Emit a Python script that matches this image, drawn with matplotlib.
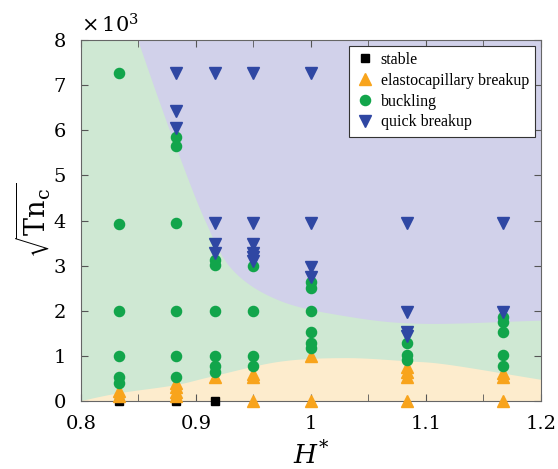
import numpy as np
import matplotlib
matplotlib.use("Agg")
import matplotlib.pyplot as plt

# ---------------- data (H*, sqrt(Tn_c)) ----------------
stable_H = [0.8333, 0.8824, 0.9167]
stable_v = [0, 0, 0]

elasto_H = [0.8333, 0.8333,
            0.8824, 0.8824, 0.8824, 0.8824,
            0.9167,
            0.95, 0.95, 0.95,
            1.0, 1.0,
            1.0833, 1.0833, 1.0833, 1.0833,
            1.1667, 1.1667, 1.1667]
elasto_v = [220, 120,
            400, 300, 200, 120,
            540,
            600, 540, 0,
            1000, 0,
            760, 650, 540, 0,
            620, 540, 0]

buck_H = [0.8333] * 6 + [0.8824] * 6 + [0.9167] * 6 + [0.95] * 4 + [1.0] * 6 + [1.0833] * 3 + [1.1667] * 5
buck_v = [7270, 3930, 2000, 1000, 540, 390,
          5860, 5640, 3950, 2000, 1000, 540,
          3120, 3010, 2000, 1000, 780, 650,
          3000, 2000, 1000, 780,
          2640, 2500, 2000, 1520, 1290, 1170,
          1280, 1020, 910,
          1870, 1760, 1520, 1020, 780]

quick_H = [0.8824] * 3 + [0.9167] * 4 + [0.95] * 6 + [1.0] * 4 + [1.0833] * 4 + [1.1667] * 2
quick_v = [7270, 6430, 6040,
           7270, 3950, 3490, 3270,
           7270, 3950, 3490, 3290, 3200, 3100,
           7270, 3950, 2980, 2740,
           3950, 1980, 1540, 1440,
           3950, 1980]

# region boundaries
quick_bnd_H = [0.845, 0.8496, 0.866, 0.8826, 0.908, 0.932, 0.973, 1.032, 1.097, 1.2]
quick_bnd_v = [8300, 8000, 6800, 5640, 4000, 2900, 2220, 1870, 1710, 1780]
elasto_bnd_H = [0.8, 0.833, 0.882, 0.914, 0.973, 1.03, 1.083, 1.12, 1.2]
elasto_bnd_v = [0, 170, 350, 540, 870, 950, 880, 800, 470]

x_ticks = [0.8, 0.9, 1.0, 1.1, 1.2]
x_tick_labels = ["0.8", "0.9", "1", "1.1", "1.2"]
y_ticks = list(range(0, 8001, 1000))
y_tick_labels = [str(i) for i in range(0, 9)]

labels = ["stable", "elastocapillary breakup", "buckling", "quick breakup"]

# ---------------- helpers ----------------
def catmull(xs, ys, n=40, sx=0.4, sy=8000.0):
    p = np.column_stack([np.asarray(xs) / sx, np.asarray(ys) / sy])
    p = np.vstack([2 * p[0] - p[1], p, 2 * p[-1] - p[-2]])
    out = []
    for i in range(1, len(p) - 2):
        p0, p1, p2, p3 = p[i - 1], p[i], p[i + 1], p[i + 2]
        t = np.linspace(0, 1, n, endpoint=False)[:, None]
        c = 0.5 * ((2 * p1) + (-p0 + p2) * t + (2 * p0 - 5 * p1 + 4 * p2 - p3) * t ** 2
                   + (-p0 + 3 * p1 - 3 * p2 + p3) * t ** 3)
        out.append(c)
    out.append(p[-2][None, :])
    out = np.vstack(out)
    return out[:, 0] * sx, out[:, 1] * sy

plt.rcParams['font.family'] = ['DejaVu Serif']
plt.rcParams['mathtext.fontset'] = 'dejavuserif'

fig = plt.figure(figsize=(5.58, 4.69), dpi=100)
ax = fig.add_axes([0.145, 0.145, 0.8245, 0.7697])

c_green_bg = "#cfe8d3"
c_purple_bg = "#d1d1ea"
c_orange_bg = "#fdeccd"
ax.set_facecolor(c_green_bg)

qx, qy = catmull(quick_bnd_H, quick_bnd_v)
ax.fill(np.concatenate([qx, [1.25, 1.25, qx[0]]]),
        np.concatenate([qy, [qy[-1], 9000, 9000]]),
        color=c_purple_bg, lw=0, zorder=0)
ex, ey = catmull(elasto_bnd_H, elasto_bnd_v)
ax.fill(np.concatenate([ex, [1.25, 1.25, 0.75]]),
        np.concatenate([ey, [ey[-1], -500, -500]]),
        color=c_orange_bg, lw=0, zorder=0)

ax.plot(stable_H, stable_v, 's', color='black', ms=5.5, ls='none', label=labels[0], clip_on=False, zorder=3)
ax.plot(elasto_H, elasto_v, '^', color='#f8a41c', ms=8.5, ls='none', label=labels[1], clip_on=False, zorder=3)
ax.plot(buck_H, buck_v, 'o', color='#12a54b', ms=7.3, ls='none', label=labels[2], clip_on=False, zorder=3)
ax.plot(quick_H, quick_v, 'v', color='#2f47a3', ms=8.5, ls='none', label=labels[3], clip_on=False, zorder=3)

ax.set_xlim(0.8, 1.2)
ax.set_ylim(0, 8000)
ax.set_xticks(x_ticks)
ax.set_xticklabels(x_tick_labels)
ax.set_xticks(np.arange(0.8, 1.2001, 0.05), minor=True)
ax.set_yticks(y_ticks)
ax.set_yticklabels(y_tick_labels)
ax.tick_params(which='both', direction='in', top=True, right=True, labelsize=14, color='#555555')
ax.tick_params(axis='x', which='both', pad=10)
ax.tick_params(axis='y', which='both', pad=11)
ax.tick_params(which='major', length=5)
ax.tick_params(which='minor', length=5)
for s in ax.spines.values():
    s.set_color('#666666')
    s.set_linewidth(0.8)

ax.text(0.0, 1.01, r"$\times\,10^3$", transform=ax.transAxes, fontsize=15, ha='left', va='bottom')
ax.set_xlabel(r"$H^{*}$", fontsize=19, labelpad=6)
ax.set_ylabel(r"$\sqrt{\mathrm{Tn_c}}$", fontsize=19.5, labelpad=1)

leg = ax.legend(loc='upper right', fancybox=False, framealpha=1, edgecolor='#333333',
                prop={'family': 'Liberation Serif', 'size': 11.5}, borderaxespad=0.35,
                handletextpad=0.4, labelspacing=0.3, handlelength=1.2, borderpad=0.4)
leg.get_frame().set_linewidth(0.8)

fig.savefig("out.png", dpi=100)
